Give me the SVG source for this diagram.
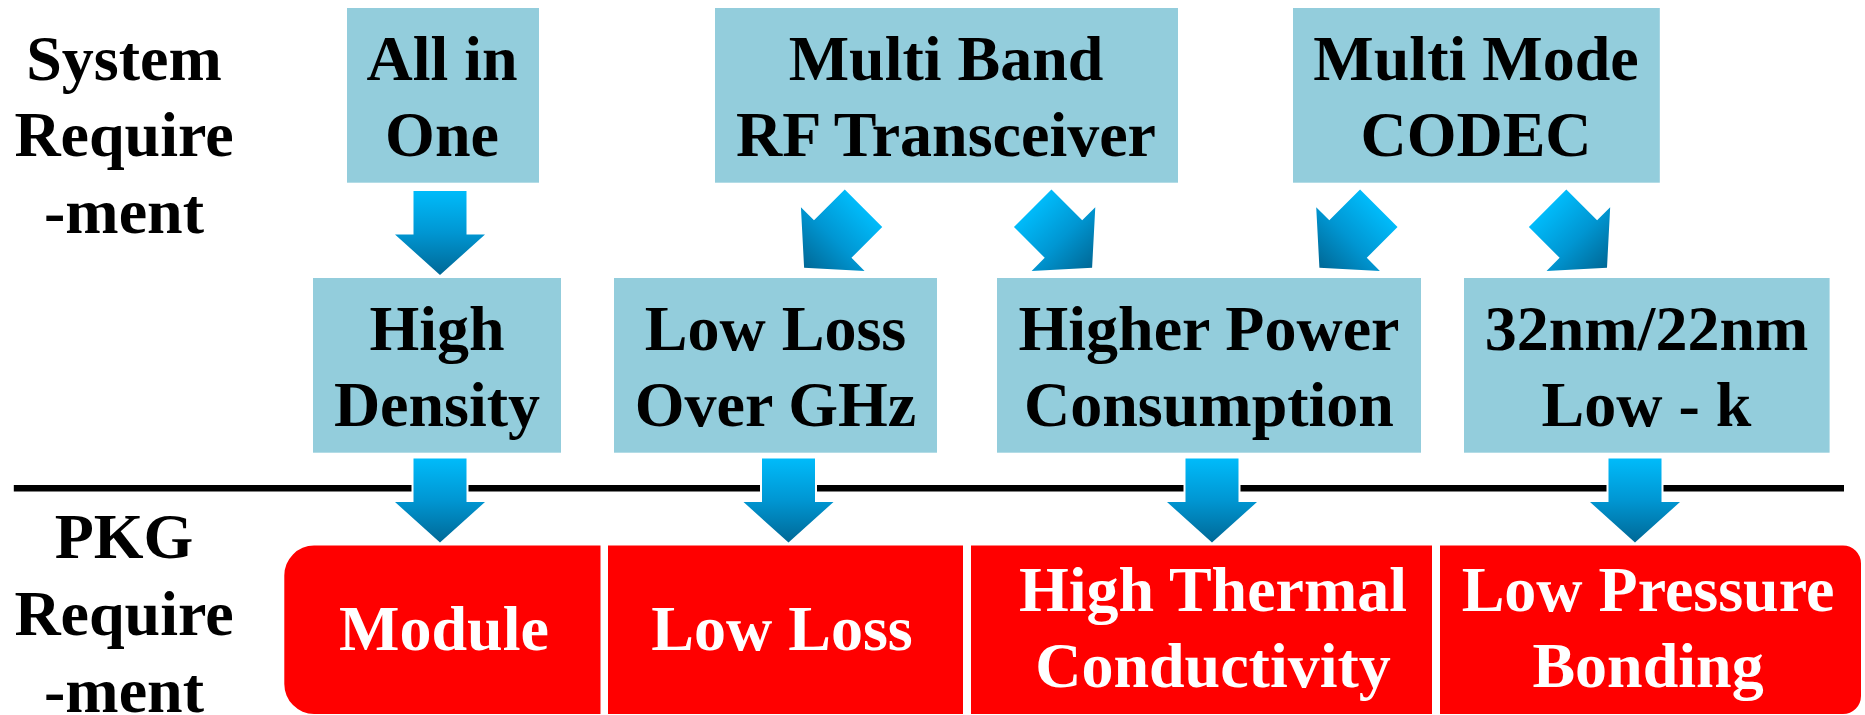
<svg xmlns="http://www.w3.org/2000/svg" width="1865" height="715" viewBox="0 0 1865 715">
<defs>
<linearGradient id="ag" x1="0" y1="0" x2="0" y2="1">
<stop offset="0" stop-color="#00BBFA"/>
<stop offset="0.5" stop-color="#0096D2"/>
<stop offset="1" stop-color="#006896"/>
</linearGradient>
<polygon id="arrow" points="-26.5,0 26.5,0 26.5,43.5 45,43.5 0,84 -45,43.5 -26.5,43.5"/>
</defs>
<style>
.box{fill:#93CDDC}
.cell{fill:#FF0000}
.t{font-family:'Liberation Serif','Times New Roman',serif;font-weight:bold;font-size:64px;text-anchor:middle;fill:#000}
.w{fill:#FFFFFF}
.arr{fill:url(#ag);stroke:#FFFFFF;stroke-width:4;paint-order:stroke}
</style>
<rect width="1865" height="715" fill="#FFFFFF"/>

<g id="label-system">
<text class="t" x="124" y="80">System</text>
<text class="t" x="124" y="156">Require</text>
<text class="t" x="124" y="232.7">-ment</text>
</g>
<g id="label-pkg">
<text class="t" x="124" y="558">PKG</text>
<text class="t" x="124" y="635">Require</text>
<text class="t" x="124" y="711.7">-ment</text>
</g>

<g id="node-all-in-one">
<rect class="box" x="347" y="8" width="192" height="174.7"/>
<text class="t" x="442" y="80">All in</text>
<text class="t" x="442" y="156">One</text>
</g>
<g id="node-multi-band">
<rect class="box" x="715" y="8" width="463" height="174.7"/>
<text class="t" x="946" y="80">Multi Band</text>
<text class="t" x="946" y="156">RF Transceiver</text>
</g>
<g id="node-multi-mode">
<rect class="box" x="1293" y="8" width="366.8" height="174.7"/>
<text class="t" x="1476" y="80">Multi Mode</text>
<text class="t" x="1476" y="156">CODEC</text>
</g>

<g id="node-high-density">
<rect class="box" x="313" y="278" width="248" height="174.7"/>
<text class="t" x="437" y="350">High</text>
<text class="t" x="437" y="426">Density</text>
</g>
<g id="node-low-loss-ghz">
<rect class="box" x="614" y="278" width="323" height="174.7"/>
<text class="t" x="775.5" y="350">Low Loss</text>
<text class="t" x="775.5" y="426">Over GHz</text>
</g>
<g id="node-higher-power">
<rect class="box" x="997" y="278" width="424" height="174.7"/>
<text class="t" x="1209" y="350">Higher Power</text>
<text class="t" x="1209" y="426">Consumption</text>
</g>
<g id="node-lowk">
<rect class="box" x="1464" y="278" width="365.6" height="174.7"/>
<text class="t" x="1646.5" y="350">32nm/22nm</text>
<text class="t" x="1646.5" y="426">Low - k</text>
</g>

<g id="divider">
<rect x="13.8" y="485" width="1830.2" height="6.5" fill="#000000"/>
</g>

<g id="node-module">
<path class="cell" d="M314,545.5 H600.5 V714 H314 A30,30 0 0 1 284.3,684 V575.5 A30,30 0 0 1 314,545.5 Z"/>
<text class="t w" x="444" y="650">Module</text>
</g>
<g id="node-low-loss">
<rect class="cell" x="608" y="545.5" width="355" height="168.5"/>
<text class="t w" x="782" y="650">Low Loss</text>
</g>
<g id="node-thermal">
<rect class="cell" x="971" y="545.5" width="461" height="168.5"/>
<text class="t w" x="1213" y="610.7">High Thermal</text>
<text class="t w" x="1213" y="687.3">Conductivity</text>
</g>
<g id="node-bonding">
<path class="cell" d="M1440,545.5 H1843 A18,18 0 0 1 1861,563.5 V696 A18,18 0 0 1 1843,714 H1440 Z"/>
<text class="t w" x="1648" y="610.7">Low Pressure</text>
<text class="t w" x="1648" y="687.3">Bonding</text>
</g>

<g id="connectors">
<use href="#arrow" class="arr" transform="translate(440,191)"/>
<use href="#arrow" class="arr" transform="translate(863.5,208.3) rotate(45)"/>
<use href="#arrow" class="arr" transform="translate(1032.7,208.3) rotate(-45)"/>
<use href="#arrow" class="arr" transform="translate(1378.8,208.3) rotate(45)"/>
<use href="#arrow" class="arr" transform="translate(1547.6,208.3) rotate(-45)"/>
<use href="#arrow" class="arr" transform="translate(440,458.5)"/>
<use href="#arrow" class="arr" transform="translate(788.5,458.5)"/>
<use href="#arrow" class="arr" transform="translate(1212,458.5)"/>
<use href="#arrow" class="arr" transform="translate(1635,458.5)"/>
</g>
</svg>
